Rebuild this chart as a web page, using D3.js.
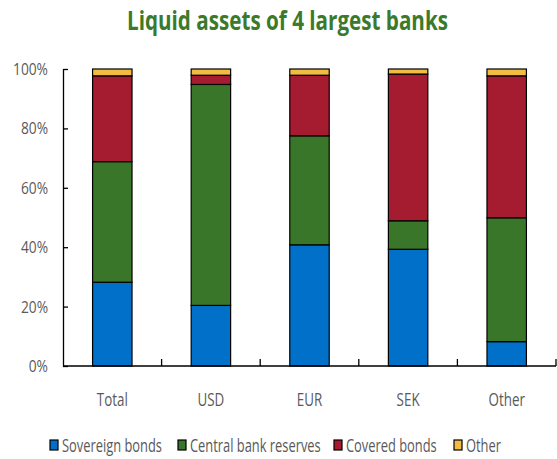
<!DOCTYPE html>
<html><head><meta charset="utf-8">
<script src="https://cdn.jsdelivr.net/npm/d3@7"></script>
<style>body{margin:0;background:#fff}</style>
</head><body>
<svg id="c" width="557" height="459"></svg>
<script>
const categories = ["Total","USD","EUR","SEK","Other"];
const seriesNames = ["Sovereign bonds","Central bank reserves","Covered bonds","Other"];
const sovereign = [28.2, 20.4, 40.8, 39.3, 8.2];
const centralBank = [40.6, 74.4, 36.7, 9.6, 41.7];
const covered = [28.9, 3.1, 20.4, 49.4, 47.8];
const otherAssets = [2.3, 2.1, 2.1, 1.7, 2.3];
const yTicks = [0,20,40,60,80,100];
const colors = ["#0070c9","#3a7629","#a51b30","#f1bc41"];

const svg = d3.select("#c");
const font = "'Open Sans',sans-serif";
const x = d3.scaleBand().domain(categories).range([63,556]).paddingInner(0.6).paddingOuter(0.3);
const xb = d3.scaleBand().domain(categories).range([63,556]);
const y = d3.scaleLinear().domain([0,100]).range([366,69]);

// horizontal squeeze of text about its anchor x
function squeeze(sel, k){
  sel.each(function(){
    const t = d3.select(this);
    const ax = +t.attr("x") || 0;
    const prev = t.attr("transform") || "";
    t.attr("transform", `${prev} translate(${ax},0) scale(${k},1) translate(${-ax},0)`);
  });
}
function fitFactor(node, target){ return target / node.getComputedTextLength(); }

const rows = categories.map((c,i)=>({cat:c, s0:sovereign[i], s1:centralBank[i], s2:covered[i], s3:otherAssets[i]}));
const stack = d3.stack().keys(["s0","s1","s2","s3"])(rows);

const title = svg.append("text").attr("x",287.5).attr("y",30).attr("text-anchor","middle")
  .attr("font-family",font).attr("font-weight","bold").attr("font-size",26)
  .attr("fill","#3b7a2b").text("Liquid assets of 4 largest banks");
squeeze(title, fitFactor(title.node(), 321));

stack.forEach((layer,k)=>{
  svg.append("g").selectAll("rect").data(layer).join("rect")
    .attr("x",d=>x(d.data.cat)).attr("width",x.bandwidth())
    .attr("y",d=>y(d[1])).attr("height",d=>y(d[0])-y(d[1]))
    .attr("fill",colors[k]).attr("stroke","#000").attr("stroke-width",1.2);
});

// y axis
const ya = svg.append("g").attr("transform","translate(63,0)")
  .call(d3.axisLeft(y).tickValues(yTicks).tickFormat(d=>d+"%").tickSizeInner(-5).tickSizeOuter(0).tickPadding(15));
ya.select(".domain").attr("stroke","#000").attr("stroke-width",1.3);
ya.selectAll("line").attr("stroke","#000").attr("stroke-width",1.3);
const yt = ya.selectAll("text").attr("font-family",font).attr("font-size",17).attr("fill","#595959");
yt.attr("x",-15);
{
  const n = yt.filter(d=>d===100).node();
  squeeze(yt, fitFactor(n, 35));
}

// x axis
const xa = svg.append("g").attr("transform","translate(0,366)");
xa.append("line").attr("x1",63).attr("x2",556).attr("stroke","#000").attr("stroke-width",1.3);
xa.selectAll("line.t").data(categories).join("line").attr("class","t")
  .attr("x1",d=>xb(d)+xb.bandwidth()).attr("x2",d=>xb(d)+xb.bandwidth())
  .attr("y1",0).attr("y2",-7).attr("stroke","#000").attr("stroke-width",1.3);
const xt = xa.selectAll("text").data(categories).join("text")
  .attr("x",d=>xb(d)+xb.bandwidth()/2).attr("y",40).attr("text-anchor","middle")
  .attr("font-family",font).attr("font-size",19).attr("fill","#595959").text(d=>d);
squeeze(xt, fitFactor(xt.filter(d=>d==="Total").node(), 31));

// legend
const legX = [50,178,334,454];
const lg = svg.append("g");
seriesNames.forEach((n,i)=>{
  lg.append("rect").attr("x",legX[i]).attr("y",440).attr("width",8).attr("height",10)
    .attr("fill",colors[i]).attr("stroke","#000").attr("stroke-width",1.2);
});
const lt = lg.selectAll("text.l").data(seriesNames).join("text").attr("class","l")
  .attr("x",(d,i)=>legX[i]+12).attr("y",452).attr("font-family",font)
  .attr("font-size",19).attr("fill","#595959").text(d=>d);
squeeze(lt, fitFactor(lt.filter((d,i)=>i===0).node(), 100));
</script>
</body></html>
